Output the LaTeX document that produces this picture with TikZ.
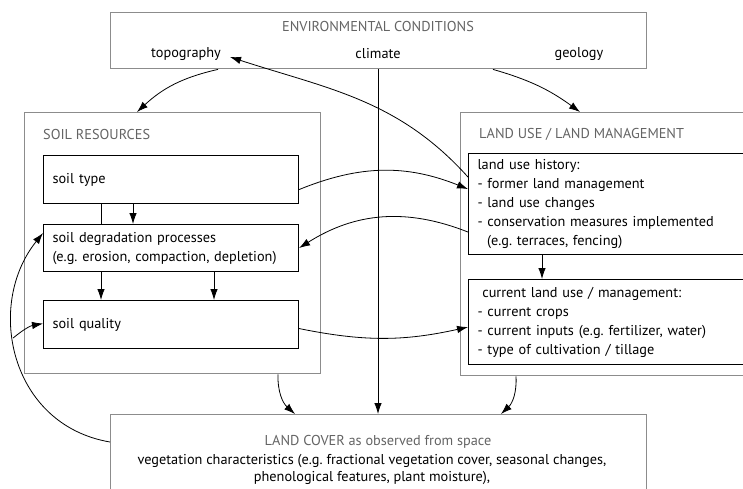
\documentclass[tikz,border=0pt]{standalone}
\usepackage{fontspec}
\setmainfont{PT Sans}
\usetikzlibrary{arrows.meta,calc}
\definecolor{framegray}{RGB}{140,140,140}
\definecolor{titlegray}{RGB}{100,100,100}
\frenchspacing
\begin{document}
\begin{tikzpicture}[x=1pt,y=-1pt,
  font=\fontsize{14.3}{19}\selectfont,
  frame/.style={draw=framegray,line width=1.4pt,anchor=north west,inner sep=0pt},
  box/.style={draw=black,line width=1.1pt,anchor=north west,align=left,
    inner xsep=9pt,inner ysep=0pt},
  title/.style={text=titlegray,inner sep=0pt},
  label/.style={inner sep=0pt},
  conn/.style={line width=0.8pt,-{Latex[length=11pt,width=7.5pt]}},
  link/.style={line width=0.8pt}]
\useasboundingbox (0,0) rectangle (743,489);

% environmental conditions
\node[frame,minimum width=536pt,minimum height=56pt] (env) at (110,12) {};
\node[title] (envtitle) at (378,26) {ENVIRONMENTAL CONDITIONS};
\node[label] (topo) at (186,54) {topography};
\node[label] (clim) at (378,54) {climate};
\node[label] (geo) at (579,54) {geology};

% soil resources
\node[frame,minimum width=296pt,minimum height=261pt] (soilres) at (24,112) {};
\node[title,anchor=west] (soiltitle) at (43,134) {SOIL RESOURCES};
\node[box,minimum width=255pt,minimum height=48pt,text width=237pt] (soiltype) at (43,155) {soil type};
\node[box,minimum width=255pt,minimum height=47pt,text width=237pt] (degr) at (43,224)
  {soil degradation processes\\(e.g. erosion, compaction, depletion)};
\node[box,minimum width=255pt,minimum height=48pt,text width=237pt] (soilq) at (43,300) {soil quality};

% land use / land management
\node[frame,minimum width=330pt,minimum height=263pt] (landuse) at (460,112) {};
\node[title,anchor=west] (lutitle) at (479,134) {LAND USE / LAND MANAGEMENT};
\node[box,minimum width=312pt,minimum height=101pt,text width=294pt] (hist) at (468,153)
  {land use history:\\- former land management\\- land use changes\\- conservation measures implemented\\\ \ (e.g. terraces, fencing)};
\node[box,minimum width=312pt,minimum height=85pt,text width=294pt] (cur) at (468,279)
  {\ current land use / management:\\- current crops\\- current inputs (e.g. fertilizer, water)\\- type of cultivation / tillage};

% land cover
\node[frame,minimum width=536pt,minimum height=110pt] (cover) at (110,414) {};
\node[title] (covertitle) at (378,442) {LAND COVER as observed from space};
\node[label,align=center,font=\fontsize{14.3}{17}\selectfont] (veg) at (372,469)
  {vegetation characteristics (e.g. fractional vegetation cover, seasonal changes,\\phenological features, plant moisture),};

% links from the environment
\draw[conn] ($(topo.south |- env.south)+(32,0)$) to[bend right=15] ($(soilres.north west)+(113,0)$);
\draw[conn] ($(geo.south |- env.south)+(-86,0)$) to[bend left=10] ($(landuse.north west)+(120,0)$);
\draw[conn] (clim.south |- env.south) -- (clim.south |- cover.north);

% within the soil block
\draw[link] ($(soiltype.south west)+(58,0)$) -- ($(degr.north west)+(58,0)$);
\draw[conn] ($(soiltype.south west)+(90,0)$) -- ($(degr.north west)+(90,0)$);
\draw[conn] ($(degr.south west)+(58,0)$) -- ($(soilq.north west)+(58,0)$);
\draw[conn] ($(degr.south west)+(171,0)$) -- ($(soilq.north west)+(171,0)$);

% within the land use block
\draw[conn] ($(hist.south west)+(74,0)$) -- ($(cur.north west)+(74,0)$);

% between soil and land use
\draw[conn] ($(hist.west)+(0,-27)$) to[out=132,in=-18] ($(topo.east)+(9,3)$);
\draw[conn] ($(soiltype.east)+(0,10)$) to[bend left=22] ($(hist.west)+(0,-15)$);
\draw[conn] ($(hist.west)+(0,28)$) to[bend right=27] (degr.east);
\draw[conn] ($(soilq.east)+(0,4)$) to[bend right=12] ($(cur.west)+(0,5)$);

% towards land cover
\draw[conn] ($(soilres.south west)+(254,0)$) to[bend right=25] ($(cover.north west)+(185,0)$);
\draw[conn] ($(landuse.south west)+(56,0)$) to[bend left=25] ($(cover.north west)+(391,0)$);

% feedback from land cover
\draw[conn] ($(cover.north west)+(0,28)$) .. controls (10,425) and (-15,305) ..
  ($(degr.west)+(0,-15)$) coordinate[pos=0.58] (fork);
\draw[conn] (fork) to[out=40,in=190] ($(soilq.west)+(0,-1)$);
\end{tikzpicture}
\end{document}
